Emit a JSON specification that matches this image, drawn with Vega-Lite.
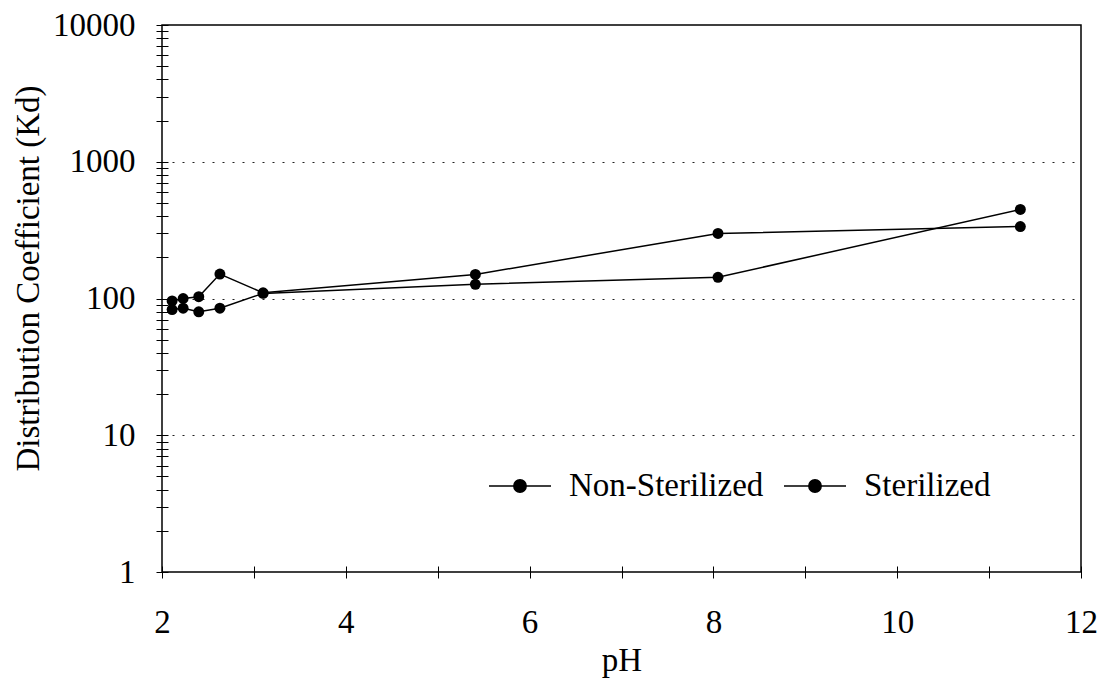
{
  "$schema": "https://vega.github.io/schema/vega-lite/v6.json",
  "width": 919,
  "height": 547,
  "autosize": {"type": "none"},
  "padding": {"left": 162, "top": 25, "right": 17, "bottom": 110},
  "background": "white",
  "config": {
    "font": "Liberation Serif",
    "view": {"stroke": "black", "strokeWidth": 1.5},
    "axis": {"labelFont": "Liberation Serif", "titleFont": "Liberation Serif", "labelColor": "black", "titleColor": "black", "labelFontSize": 33, "titleFontSize": 33, "titleFontWeight": "normal", "tickColor": "black", "tickWidth": 1}
  },
  "data": {
    "values": [
      {"pH": 2.11, "Kd": 96, "series": "Non-Sterilized"},
      {"pH": 2.23, "Kd": 100, "series": "Non-Sterilized"},
      {"pH": 2.4, "Kd": 103, "series": "Non-Sterilized"},
      {"pH": 2.63, "Kd": 151, "series": "Non-Sterilized"},
      {"pH": 3.1, "Kd": 110, "series": "Non-Sterilized"},
      {"pH": 5.41, "Kd": 150, "series": "Non-Sterilized"},
      {"pH": 8.05, "Kd": 299, "series": "Non-Sterilized"},
      {"pH": 11.34, "Kd": 336, "series": "Non-Sterilized"},
      {"pH": 2.11, "Kd": 83, "series": "Sterilized"},
      {"pH": 2.23, "Kd": 85, "series": "Sterilized"},
      {"pH": 2.4, "Kd": 80, "series": "Sterilized"},
      {"pH": 2.63, "Kd": 85, "series": "Sterilized"},
      {"pH": 3.1, "Kd": 109, "series": "Sterilized"},
      {"pH": 5.41, "Kd": 127, "series": "Sterilized"},
      {"pH": 8.05, "Kd": 143, "series": "Sterilized"},
      {"pH": 11.34, "Kd": 448, "series": "Sterilized"}
    ]
  },
  "mark": {"type": "line", "strokeWidth": 1.5, "point": {"filled": true, "size": 120, "opacity": 1}},
  "encoding": {
    "x": {
      "field": "pH", "type": "quantitative",
      "scale": {"domain": [2, 12], "nice": false, "zero": false},
      "axis": {
        "title": "pH",
        "values": [2, 3, 4, 5, 6, 7, 8, 9, 10, 11, 12],
        "labelExpr": "datum.value % 2 == 0 ? datum.label : ''",
        "format": "d",
        "domain": false,
        "offset": -6,
        "tickSize": 12,
        "labelPadding": 28,
        "titlePadding": 5,
        "labelOverlap": false,
        "labelFlush": false,
        "labelBound": false,
        "grid": false
      }
    },
    "y": {
      "field": "Kd", "type": "quantitative",
      "scale": {"type": "log", "domain": [1, 10000], "nice": false},
      "axis": {
        "title": "Distribution Coefficient (Kd)",
        "values": [1, 2, 3, 4, 5, 6, 7, 8, 9, 10, 20, 30, 40, 50, 60, 70, 80, 90, 100, 200, 300, 400, 500, 600, 700, 800, 900, 1000, 2000, 3000, 4000, 5000, 6000, 7000, 8000, 9000, 10000],
        "format": "d",
        "labelExpr": "(datum.value == 1 || datum.value == 10 || datum.value == 100 || datum.value == 1000 || datum.value == 10000) ? datum.label : ''",
        "domain": false,
        "offset": -6,
        "tickSize": 12,
        "labelPadding": 21,
        "labelOverlap": false,
        "labelFlush": false,
        "labelBound": false,
        "grid": true,
        "gridColor": "#222",
        "gridDash": [2, 8],
        "gridWidth": 1,
        "gridOpacity": {"condition": {"test": "datum.value == 10 || datum.value == 100 || datum.value == 1000", "value": 1}, "value": 0},
        "titleAngle": -90,
        "titleBaseline": "alphabetic",
        "titleAlign": "center",
        "titleX": -130,
        "titleY": 253
      }
    },
    "color": {
      "field": "series", "type": "nominal",
      "sort": ["Non-Sterilized", "Sterilized"],
      "scale": {"range": ["black", "black"]},
      "legend": {
        "title": null,
        "orient": "none",
        "direction": "horizontal",
        "legendX": 326,
        "legendY": 429,
        "padding": 0,
        "symbolType": "M-1,0H-0.2M0.2,0H1M-0.2,0A0.2,0.2,0,1,1,0.2,0A0.2,0.2,0,1,1,-0.2,0Z",
        "symbolSize": 3844,
        "symbolStrokeWidth": 1.5,
        "symbolFillColor": "black",
        "symbolStrokeColor": "black",
        "labelFont": "Liberation Serif",
        "labelFontSize": 33,
        "labelColor": "black",
        "labelLimit": 500,
        "labelOffset": 17,
        "columnPadding": 17,
        "encode": {"symbols": {"update": {"fill": {"value": "black"}, "stroke": {"value": "black"}, "opacity": {"value": 1}}}}
      }
    }
  }
}
